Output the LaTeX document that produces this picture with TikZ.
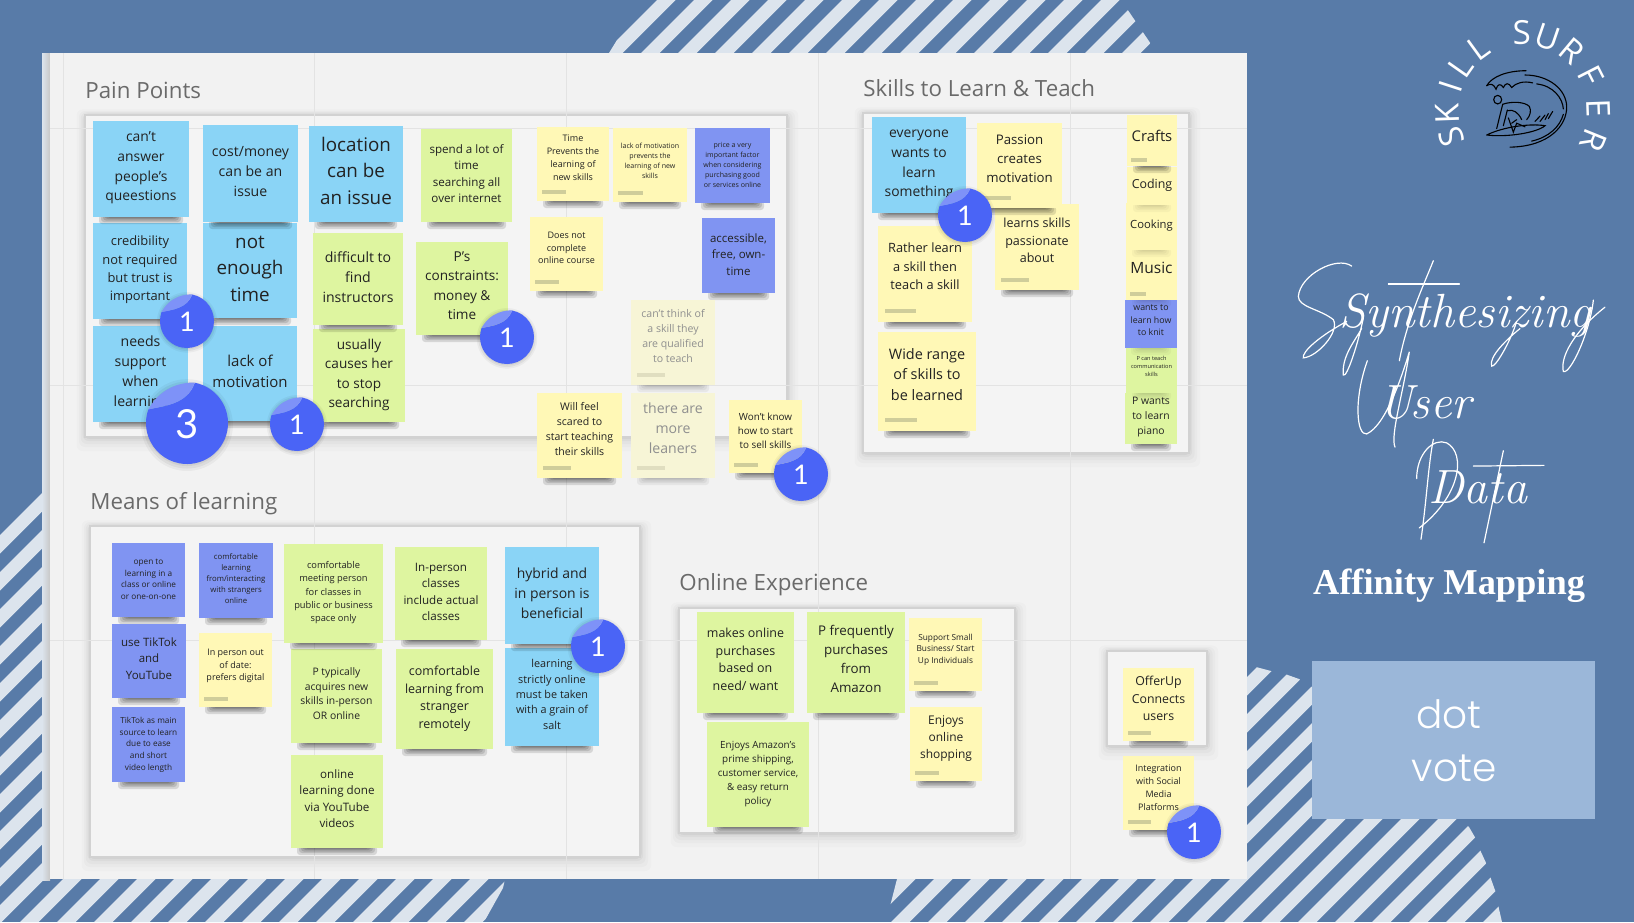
\documentclass[tikz,border=0pt]{standalone}
\usepackage{fontspec}
\setmainfont{Open Sans}
\newfontfamily\numf{Lato}
\newfontfamily\popf[UprightFont=* Light]{Poppins}
\newfontfamily\affif{Liberation Serif}
\newfontfamily\lmit{Latin Modern Roman}
\usetikzlibrary{calc}
\definecolor{bgblue}{HTML}{587BA8}
\definecolor{stripe}{HTML}{DCE4ED}
\definecolor{boardc}{HTML}{F2F2F2}
\definecolor{gridc}{HTML}{E3E3E3}
\definecolor{framec}{HTML}{F4F4F4}
\definecolor{frameb}{HTML}{D2D2D2}
\definecolor{votec}{HTML}{9BB7D9}
\definecolor{dotc}{HTML}{4A64F6}
\definecolor{peelc}{HTML}{7E92F8}
\definecolor{cblue}{HTML}{8AD4F6}
\definecolor{cgreen}{HTML}{DEF5A0}
\definecolor{cyel}{HTML}{FFF8B6}
\definecolor{cpur}{HTML}{8094F2}
\definecolor{cfade}{HTML}{F7F5D6}
\definecolor{barc}{HTML}{CFCD9A}
\definecolor{barf}{HTML}{E0DEC0}
\definecolor{txtd}{HTML}{222222}
\definecolor{txtf}{HTML}{8F8F8F}
\definecolor{titlec}{HTML}{6A6A6A}
\tikzset{
  title/.style={anchor=west,inner sep=0pt,text=titlec,font=\fontsize{11.15}{13}\selectfont},
  sticktxt/.style={align=center,inner sep=0pt},
  rectn/.style={inner sep=0pt,outer sep=0pt,draw=none},
  gridl/.style={draw=gridc,line width=0.5pt},
  logo/.style={draw=black,line width=0.55pt,line cap=round,fill=none},
  scriptl/.style={draw=white,line width=0.6pt,line cap=round,fill=none},
  scripttxt/.style={inner sep=0pt,anchor=base,text=white,font=\lmit\itshape\fontsize{24}{26}\selectfont},
}
\def\txtc{txtd}\def\barcol{barc}\def\shop{0.12}
% name x0 y0 x1 y1 colour pitch textcentre text
\newcommand\sk[9]{%
  \pgfmathsetmacro\skw{(#4-#2)*0.5}\pgfmathsetmacro\skh{(#5-#3)*0.5}%
  \pgfmathsetmacro\fs{#7*0.5/1.42}\pgfmathsetmacro\skl{#7*0.5}%
  \foreach \sd/\ins in {1/14,2/12,3.5/10,5/8,7/6}{%
    \fill[black,opacity=\shop,rounded corners=1.5pt] (#2+\ins,#5-2) rectangle (#4-\ins,#5+\sd);}%
  \node[rectn,fill=#6,minimum width=\skw pt,minimum height=\skh pt] (#1) at ({(#2+#4)/2},{(#3+#5)/2}) {};%
  \node[sticktxt,text=\txtc,font=\fontsize{\fs}{\skl}\selectfont] (#1-t) at ({(#2+#4)/2},#8+1.5) {\strut #9\strut};%
}
\newcommand\yb[9]{%
  \sk{#1}{#2}{#3}{#4}{#5}{#6}{#7}{#8}{#9}%
  \pgfmathsetmacro\bw{(#4-#2)*0.33}\pgfmathsetmacro\bx{#2+(#4-#2)*0.07}\pgfmathsetmacro\by{#5-(#5-#3)*0.115}%
  \fill[\barcol] (\bx,\by-2) rectangle (\bx+\bw,\by+2);%
}
% name cx cy r number size
\newcommand\dotv[6]{%
  \begin{scope}[shift={(#2,#3)},x=#4*0.5pt,y=-#4*0.5pt]
    \foreach \sr/\so in {1.0/0.05,1.06/0.05,1.12/0.04}{%
      \fill[black,opacity=\so] (0,0.05) circle[radius=\sr];}
    \fill[dotc] (281:1) arc[start angle=281,end angle=559.3,radius=1]
      .. controls (-0.55,-0.42) and (0.0,-0.45) .. cycle;
    \fill[peelc] (199.3:1) .. controls (-0.55,-0.42) and (0.0,-0.45) .. (281:1)
      .. controls (0.0,-1.0) and (-0.6,-0.95) .. cycle;
  \end{scope}
  \node[inner sep=0pt,text=white,font=\numf\fontsize{#6}{#6}\selectfont] (#1) at (#2,#3+1) {#5};%
}
% frame
\newcommand\frameb[5]{%
  \foreach \fe/\fo in {14/0.015,10/0.02,7/0.025,4/0.03,2/0.04}{%
    \fill[black,opacity=\fo,rounded corners=3pt] (#2-\fe*0.6,#3-\fe*0.4) rectangle (#4+\fe*0.8,#5+\fe);}%
  \node[rectn,fill=framec,draw=frameb,line width=0.6pt,minimum width={(#4-#2)*0.5pt},minimum height={(#5-#3)*0.5pt}] (#1) at ({(#2+#4)/2},{(#3+#5)/2}) {};%
}
\newcommand\stripesin[5]{% polygon, c0, ymin, ymax, kmax
  \begin{scope}
    \clip #1;
    \foreach \kk in {0,...,#5}{%
      \pgfmathsetmacro\cc{#2+37*\kk}%
      \fill[stripe] (\cc-#3,#3) -- (\cc+18.5-#3,#3) -- (\cc+18.5-#4,#4) -- (\cc-#4,#4) -- cycle;}
  \end{scope}
}
\begin{document}
\begin{tikzpicture}[x=0.5pt,y=-0.5pt]
\useasboundingbox (0,0) rectangle (1634,922);
\fill[bgblue] (0,0) rectangle (1634,922);
% ---- stripes
\stripesin{(657,0)--(1121,0)--(1155,50)--(1155,53)--(609,53)--(617,40)--cycle}{657}{0}{53}{14}
\stripesin{(0,533)--(42,493)--(60,870)--(505,879)--(503,888)--(484,922)--(0,922)--cycle}{535}{480}{922}{25}
\stripesin{(897,879)--(886,922)--(1502,922)--(1499,909)--(1496,893)--(1491,879)--(1487,865)--(1481,852)--(1476,839)--(1469,827)--(1440,800)--(1312,687)--(1299,679)--(1285,674)--(1271,671)--(1256,667)--(1247,664)--(1240,879)--cycle}{1776}{660}{922}{24}
% ---- board
\shade[left color=stripe,right color=black!22] (42,53) rectangle (50,880);
\fill[boardc] (50,53) rectangle (1247,879);
% ---- frames
\frameb{fpain}{85}{115}{787}{437}{}
\frameb{fskills}{863}{113}{1189}{453}{}
\frameb{fmeans}{90}{526}{640}{857}{}
\frameb{fonline}{679}{608}{1015}{833}{}
\frameb{foffer}{1107}{651}{1207}{746}{}
% ---- grid
\foreach \gx in {63,314,566,818,1070}{\draw[gridl] (\gx,53) -- (\gx,879);}
\foreach \gy in {128,385,640}{\draw[gridl] (50,\gy) -- (1247,\gy);}
% ---- titles
\node[title] (tpain) at (85,90) {Pain Points};
\node[title] (tskills) at (863,88) {Skills to Learn \& Teach};
\node[title] (tmeans) at (90,504) {Means of learning};
\node[title] (tonline) at (679,585) {Online Experience};
% ---- pain points
\sk{needs}{93}{326}{188}{422}{cblue}{20}{371}{needs\\support\\when\\learning}
\sk{cred}{93}{223}{187}{319}{cblue}{18.3}{268}{credibility\\not required\\but trust is\\important}
\sk{cant}{93}{121}{189}{217}{cblue}{19.7}{166}{can't\\answer\\people's\\queestions}
\sk{lack}{203}{326}{297}{421}{cblue}{21.3}{371}{lack of\\motivation}
\sk{notime}{203}{223}{297}{318}{cblue}{26.7}{268}{not\\enough\\time}
\sk{cost}{203}{125}{298}{222}{cblue}{20}{171}{cost/money\\can be an\\issue}
\sk{usually}{313}{329}{405}{422}{cgreen}{19.3}{373}{usually\\causes her\\to stop\\searching}
\sk{difficult}{313}{233}{403}{325}{cgreen}{20}{277}{difficult to\\find\\instructors}
\sk{location}{309}{126}{403}{222}{cblue}{26.7}{171}{location\\can be\\an issue}
\sk{pconst}{416}{242}{508}{335}{cgreen}{19.3}{285}{P's\\constraints:\\money \&\\time}
\sk{spend}{421}{129}{512}{222}{cgreen}{16.5}{173}{spend a lot of\\time\\searching all\\over internet}
\yb{doesnot}{530}{217}{603}{291}{cyel}{12.8}{247}{Does not\\complete\\online course}
\yb{timep}{537}{127}{609}{201}{cyel}{12.8}{157}{Time\\Prevents the\\learning of\\new skills}
\yb{lackp}{613}{128}{687}{202}{cyel}{10}{160}{lack of motivation\\prevents the\\learning of new\\skills}
\sk{price}{695}{128}{770}{203}{cpur}{10}{164}{price a very\\important factor\\when considering\\purchasing good\\or services online}
\sk{access}{702}{218}{775}{293}{cpur}{16.3}{254}{accessible,\\free, own-\\time}
{\def\txtc{txtf}\def\barcol{barf}\def\shop{0.05}
\yb{cantthink}{631}{300}{715}{385}{cfade}{15}{335}{can't think of\\a skill they\\are qualified\\to teach}
\yb{thereare}{631}{393}{715}{478}{cfade}{20}{428}{there are\\more\\leaners}
}
\yb{willfeel}{537}{393}{622}{478}{cyel}{15}{428}{Will feel\\scared to\\start teaching\\their skills}
\yb{wontknow}{729}{400}{802}{473}{cyel}{14}{430}{Won't know\\how to start\\to sell skills}
% ---- skills
\yb{wide}{878}{332}{976}{431}{cyel}{20.5}{374}{Wide range\\of skills to\\be learned}
\yb{rather}{878}{226}{972}{322}{cyel}{18.2}{266}{Rather learn\\a skill then\\teach a skill}
\sk{everyone}{872}{117}{966}{213}{cblue}{19.7}{162}{everyone\\wants to\\learn\\something}
\yb{learns}{995}{204}{1079}{290}{cyel}{17.8}{240}{learns skills\\passionate\\about}
\yb{passion}{977}{123}{1062}{208}{cyel}{18.8}{158}{Passion\\creates\\motivation}
\sk{pwants}{1125}{393}{1177}{444}{cgreen}{14.7}{415}{P wants\\to learn\\piano}
{\def\shop{0.03}
\sk{pcan}{1126}{348}{1177}{393}{cgreen}{8}{365}{P can teach\\communication\\skills}
\sk{knit}{1125}{300}{1177}{348}{cpur}{12.5}{319}{wants to\\learn how\\to knit}
\yb{music}{1126}{248}{1177}{300}{cyel}{22}{268}{Music}
\sk{cooking}{1126}{203}{1177}{250}{cyel}{16}{224}{Cooking}
\sk{coding}{1127}{167}{1177}{205}{cyel}{17.6}{183}{Coding}
}
\yb{crafts}{1127}{115}{1177}{166}{cyel}{21}{136}{Crafts}
% ---- means
\sk{opento}{112}{543}{185}{617}{cpur}{11.7}{578}{open to\\learning in a\\class or online\\or one-on-one}
\sk{tiktokm}{112}{707}{185}{782}{cpur}{11.7}{743}{TikTok as main\\source to learn\\due to ease\\and short\\video length}
\sk{tiktok}{112}{624}{186}{698}{cpur}{16.3}{658}{use TikTok\\and\\YouTube}
\sk{comfl}{199}{543}{273}{618}{cpur}{11}{578}{comfortable\\learning\\from/interacting\\with strangers\\online}
\yb{inperson}{199}{633}{272}{707}{cyel}{12.8}{664}{In person out\\of date:\\prefers digital}
\sk{onlinel}{291}{755}{383}{848}{cgreen}{16.5}{798}{online\\learning done\\via YouTube\\videos}
\sk{ptyp}{291}{649}{382}{743}{cgreen}{14.7}{693}{P typically\\acquires new\\skills in-person\\OR online}
\sk{comfm}{284}{544}{383}{643}{cgreen}{13.2}{591}{comfortable\\meeting person\\for classes in\\public or business\\space only}
\sk{comfr}{396}{649}{493}{749}{cgreen}{17.7}{697}{comfortable\\learning from\\stranger\\remotely}
\sk{inpc}{395}{547}{487}{640}{cgreen}{16.5}{591}{In-person\\classes\\include actual\\classes}
\sk{strict}{505}{648}{599}{746}{cblue}{15.4}{694}{learning\\strictly online\\must be taken\\with a grain of\\salt}
\sk{hybrid}{505}{547}{599}{644}{cblue}{19.8}{593}{hybrid and\\in person is\\beneficial}
% ---- online
\sk{amazon}{707}{722}{809}{827}{cgreen}{14}{772}{Enjoys Amazon's\\prime shipping,\\customer service,\\\& easy return\\policy}
\sk{makes}{697}{612}{794}{713}{cgreen}{17.7}{659}{makes online\\purchases\\based on\\need/ want}
\sk{freq}{807}{612}{905}{713}{cgreen}{19}{659}{P frequently\\purchases\\from\\Amazon}
\yb{shopping}{910}{707}{982}{781}{cyel}{17}{737}{Enjoys\\online\\shopping}
\yb{support}{909}{618}{982}{691}{cyel}{11.8}{648}{Support Small\\Business/ Start\\Up Individuals}
\yb{offerup}{1123}{668}{1194}{741}{cyel}{17.5}{698}{OfferUp\\Connects\\users}
\yb{integ}{1123}{756}{1194}{830}{cyel}{12.8}{787}{Integration\\with Social\\Media\\Platforms}
% ---- dots
\dotv{d1}{187}{321}{27}{1}{13.5}
\dotv{d2}{187}{423}{41}{3}{20}
\dotv{d3}{297}{424}{27}{1}{13.5}
\dotv{d4}{507}{337}{27}{1}{13.5}
\dotv{d5}{801}{474}{27}{1}{13.5}
\dotv{d6}{965}{215}{27}{1}{13.5}
\dotv{d7}{598}{646}{27}{1}{13.5}
\dotv{d8}{1194}{832}{27}{1}{13.5}
% ---- right column
\foreach \lt/\ang [count=\i] in {S/-109,K/-92,I/-72,L/-55,L/-36,S/-1,U/19,R/40,F/63,E/88,R/112}{%
  \pgfmathsetmacro\lx{1523+76*sin(\ang)}\pgfmathsetmacro\ly{111-78*cos(\ang)}%
  \node[inner sep=0pt,text=white,rotate=-\ang,font=\fontsize{16.5}{18}\selectfont] (logo\i) at (\lx,\ly) {\lt};}
\begin{scope}[shift={(1220,0)},x=0.16667pt,y=-0.17857pt]
  \draw[logo] (800,240) .. controls (815,215) and (860,198) .. (918,198);
  \draw[logo] (800,240) .. controls (812,232) and (822,236) .. (828,250) .. controls (832,236) and (842,232) .. (850,245) .. controls (856,232) and (866,230) .. (875,245) .. controls (888,232) and (910,226) .. (938,232);
  \draw[logo] (915,210) .. controls (985,210) and (1040,250) .. (1040,300) .. controls (1040,350) and (990,410) .. (870,412);
  \draw[logo] (950,235) .. controls (1000,240) and (1028,275) .. (1030,305);
  \draw[logo] (1030,320) .. controls (1020,355) and (985,385) .. (935,395);
  \draw[logo] (800,378) .. controls (850,355) and (930,345) .. (975,352) .. controls (950,372) and (860,385) .. (800,378);
  \draw[logo] (833,279) circle[x radius=12,y radius=12];
  \draw[logo] (848,292) .. controls (875,283) and (915,285) .. (928,298) .. controls (935,310) and (930,325) .. (920,335);
  \draw[logo] (848,292) -- (830,360);
  \draw[logo] (862,308) -- (850,352);
  \draw[logo] (862,310) .. controls (880,305) and (895,315) .. (905,335);
  \draw[logo] (865,330) -- (880,370) -- (890,345) -- (915,355);
  \draw[logo] (890,335) -- (875,345);
  \draw[logo] (945,340)--(960,325);\draw[logo] (960,340)--(975,322);\draw[logo] (975,335)--(985,318);\draw[logo] (985,332)--(998,312);
  % script flourishes
  \draw[scriptl] (395,745) .. controls (350,715) and (240,770) .. (235,830) .. controls (235,860) and (300,865) .. (340,895) .. controls (360,930) and (290,1000) .. (250,1002) .. controls (245,985) and (300,940) .. (380,900);
  \draw[scriptl] (430,890) .. controls (415,960) and (380,1060) .. (370,1050) .. controls (365,1000) and (400,960) .. (425,920);
  \draw[scriptl] (640,730) .. controls (610,800) and (560,900) .. (538,1010);
  \draw[scriptl] (505,795) -- (718,795);
  \draw[scriptl] (890,900) .. controls (870,960) and (825,1030) .. (815,1025) .. controls (805,1000) and (860,950) .. (900,920);
  \draw[scriptl] (1120,840) .. controls (1110,930) and (1050,1050) .. (1030,1040) .. controls (1020,1000) and (1060,930) .. (1155,860);
  \draw[scriptl] (442,1010) .. controls (400,1120) and (410,1220) .. (440,1215) .. controls (500,1190) and (550,1040) .. (568,985) .. controls (550,1100) and (510,1220) .. (525,1252);
  \draw[scriptl] (640,1230) .. controls (625,1300) and (620,1400) .. (603,1510);
  \draw[scriptl] (590,1340) .. controls (590,1270) and (640,1225) .. (680,1240) .. controls (740,1270) and (720,1390) .. (598,1478);
  \draw[scriptl] (760,1305) -- (972,1303);
  \draw[scriptl] (850,1262) -- (792,1520);
\end{scope}
\node[scripttxt] (syn) at (1465,327) {Synthesizing};
\node[scripttxt] (usr) at (1425,418) {User};
\node[scripttxt] (dat) at (1478,503) {Data};
\node[inner sep=0pt,text=white,font=\affif\bfseries\fontsize{18.2}{20}\selectfont] (aff) at (1449,586) {Affinity Mapping};
\node[rectn,fill=votec,minimum width=141.5pt,minimum height=79pt] (vote) at (1453.5,740) {};
\node[inner sep=0pt,text=white,font=\popf\fontsize{19.5}{20}\selectfont,anchor=base] (dot) at (1449,728) {dot};
\node[inner sep=0pt,text=white,font=\popf\fontsize{19.5}{20}\selectfont,anchor=base] (vt) at (1454,781) {vote};
\end{tikzpicture}
\end{document}
